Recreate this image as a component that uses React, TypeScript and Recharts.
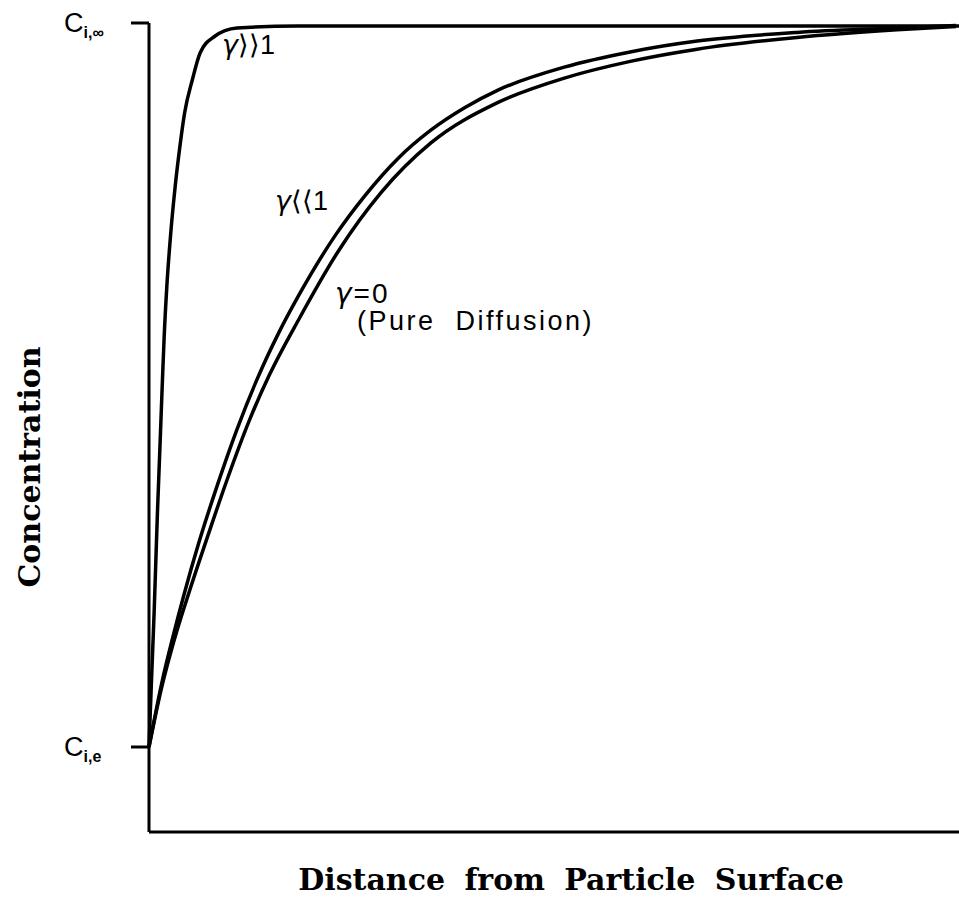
import React from "react";
import { LineChart, Line, XAxis, YAxis } from "recharts";

// distance from the particle surface (0 = surface, 1 = far field)
const distHigh = [0, 0.0031, 0.0063, 0.0104, 0.0135, 0.0166, 0.0187, 0.022, 0.0265, 0.0323, 0.0381, 0.044, 0.0536, 0.0632, 0.0804, 0.1087, 0.183, 0.4, 0.7, 1.0];
// gamma >> 1
const concHigh = [0, 0.0926, 0.185, 0.323, 0.414, 0.507, 0.566, 0.636, 0.705, 0.774, 0.829, 0.876, 0.922, 0.959, 0.981, 0.993, 0.996, 0.996, 0.996, 0.996];

const distLow = [0, 0.0155, 0.0311, 0.0431, 0.0612, 0.0842, 0.1084, 0.1327, 0.1606, 0.185, 0.2302, 0.2669, 0.3074, 0.3479, 0.3896, 0.4302, 0.5127, 0.594, 0.6768, 0.8001, 0.9235, 0.9963];
// gamma << 1
const concLow = [0, 0.087, 0.159, 0.21, 0.281, 0.361, 0.438, 0.506, 0.573, 0.624, 0.707, 0.762, 0.813, 0.852, 0.883, 0.907, 0.939, 0.96, 0.975, 0.987, 0.993, 0.9965];

const distZero = [0, 0.0155, 0.0312, 0.0517, 0.0723, 0.0965, 0.1244, 0.1487, 0.1852, 0.2341, 0.2867, 0.348, 0.4303, 0.5128, 0.5942, 0.6768, 0.8001, 0.9236, 0.9963];
// gamma = 0, pure diffusion
const concZero = [0, 0.0816, 0.148, 0.2214, 0.2906, 0.3695, 0.4526, 0.514, 0.5912, 0.6855, 0.766, 0.8343, 0.89, 0.9239, 0.947, 0.9638, 0.98, 0.9906, 0.9953];

const yTicks = [0, 1];
const yTickSubs = ["i,e", "i,\u221e"];

const xTitle = "Distance from Particle Surface";
const yTitle = "Concentration";

const toPoints = (xs: number[], ys: number[]) => xs.map((d, i) => ({ d, c: ys[i] }));

const lineProps = {
  type: "monotone" as const,
  dataKey: "c",
  stroke: "#000",
  strokeWidth: 3.5,
  dot: false,
  isAnimationActive: false,
};

const sans = "'Liberation Sans', Arial, sans-serif";
const serif = "'DejaVu Serif', serif";
const greek = "'DejaVu Sans', sans-serif";

function ConcTick(props: any) {
  const { y, payload } = props;
  const sub = yTickSubs[yTicks.indexOf(payload.value)];
  return (
    <text x={64} y={y + 9} fontFamily={sans} fontSize={27} fill="#000">
      C
      <tspan dy={6} fontSize={16} fontWeight="bold">
        {sub}
      </tspan>
    </text>
  );
}

export default function App() {
  return (
    <div style={{ position: "absolute", left: 0, top: 0, background: "#fff" }}>
      <LineChart width={959} height={899} margin={{ top: 23, right: 0, bottom: 0, left: 0 }}>
        <XAxis
          type="number"
          dataKey="d"
          domain={[0, 1]}
          ticks={[]}
          tick={false}
          tickLine={false}
          height={67}
          axisLine={{ stroke: "#000", strokeWidth: 3 }}
        />
        <YAxis
          type="number"
          domain={[-0.1174, 1]}
          ticks={yTicks}
          width={149}
          tickSize={18}
          tickLine={{ stroke: "#000", strokeWidth: 3 }}
          axisLine={{ stroke: "#000", strokeWidth: 3 }}
          tick={<ConcTick />}
          allowDataOverflow
        />
        <Line {...lineProps} data={toPoints(distHigh, concHigh)} />
        <Line {...lineProps} data={toPoints(distLow, concLow)} />
        <Line {...lineProps} data={toPoints(distZero, concZero)} />

        <text x={222} y={54} fontFamily={sans} fontSize={27} fill="#000">
          <tspan fontFamily={greek} fontStyle="italic">γ</tspan>⟩⟩1
        </text>
        <text x={275} y={210} fontFamily={sans} fontSize={27} fill="#000">
          <tspan fontFamily={greek} fontStyle="italic">γ</tspan>⟨⟨1
        </text>
        <text x={335} y={303} fontFamily={sans} fontSize={28} fill="#000" letterSpacing={2}>
          <tspan fontFamily={greek} fontStyle="italic">γ</tspan>=0
        </text>
        <text x={357} y={330} fontFamily={sans} fontSize={27} fill="#000" letterSpacing={2.5} style={{ whiteSpace: "pre" }}>
          (Pure  Diffusion)
        </text>

        <text x={571} y={890} textAnchor="middle" fontFamily={serif} fontWeight="bold" fontSize={30} fill="#000" wordSpacing={9}>
          {xTitle}
        </text>
        <text
          x={0}
          y={0}
          transform="translate(40 467) rotate(-90)"
          textAnchor="middle"
          fontFamily={serif}
          fontWeight="bold"
          fontSize={30}
          fill="#000"
        >
          {yTitle}
        </text>
      </LineChart>
    </div>
  );
}
